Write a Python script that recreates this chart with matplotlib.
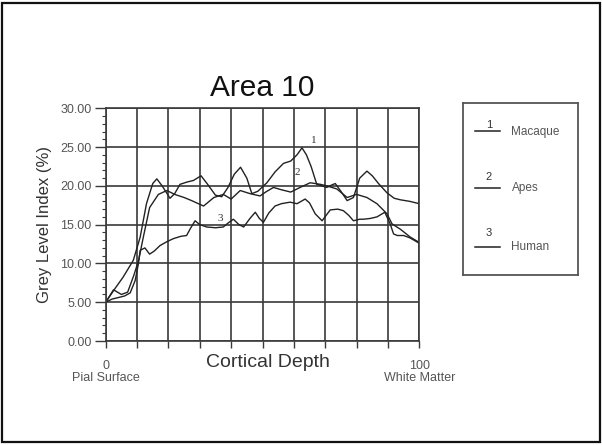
import matplotlib.pyplot as plt
from matplotlib.patches import Rectangle

plt.rcParams['font.family'] = ['Liberation Sans', 'DejaVu Sans']

# ------------------------------------------------------------
# data
# ------------------------------------------------------------
series_names = ["Macaque", "Apes", "Human"]
series_numbers = ["1", "2", "3"]

macaque_x = [0, 2.5, 5.5, 8.8, 11, 13, 15, 16.3, 18, 20.5, 22, 23.7, 26, 28, 30.4,
             32.5, 35, 37, 39, 41, 43, 45, 46.6, 48.5, 51.4, 54, 56.7, 59, 61, 62.6,
             64, 65.5, 67.3, 69, 70.5, 72, 73.2, 75, 77, 79, 81, 83.3, 85, 87, 89.7,
             92, 94, 97, 100]
macaque_y = [5.0, 6.5, 8.2, 10.4, 13.4, 17.7, 20.3, 20.9, 20.0, 18.4, 19.0, 20.2, 20.5,
             20.7, 21.3, 20.2, 18.8, 18.6, 19.8, 21.5, 22.4, 21.0, 19.0, 19.3, 20.4,
             21.8, 22.9, 23.2, 24.0, 24.9, 24.0, 22.5, 20.2, 20.0, 19.8, 20.1, 20.3,
             19.3, 18.1, 18.5, 21.0, 21.9, 21.3, 20.3, 19.1, 18.4, 18.2, 18.0, 17.7]

apes_x = [0, 2.5, 5, 7, 9, 10.5, 12, 14, 16.8, 19.5, 22, 25, 27.4, 31.2, 34.5, 37.5,
          40, 42.9, 46, 49.2, 51, 53.5, 56, 59, 62, 65.2, 68.4, 70.5, 73.7, 77, 80,
          83.3, 86.5, 89.7, 91.3, 94, 97.1, 100]
apes_y = [5.0, 6.6, 6.0, 6.3, 8.5, 10.4, 13.4, 17.2, 18.9, 19.4, 18.9, 18.5, 18.1, 17.4,
          18.5, 18.9, 18.3, 19.4, 19.0, 18.7, 19.2, 19.8, 19.5, 19.2, 19.8, 20.4, 20.2,
          20.0, 19.6, 18.5, 18.9, 18.5, 17.7, 16.4, 15.1, 14.4, 13.4, 12.7]

human_x = [0, 2, 4, 6, 7.8, 9.4, 10.4, 11, 12.5, 14, 15.5, 17.3, 19.5, 21.6, 24, 25.8,
           27, 28.5, 30, 32.2, 35, 37.5, 39, 40.7, 42.5, 44, 46, 47.7, 49, 50.3, 52,
           54, 56, 58.8, 61, 63.6, 65, 66.8, 69, 71.6, 74, 75.8, 77.5, 79, 81, 82.2,
           84.4, 86.5, 89, 90.7, 91.8, 93, 95, 97, 100]
human_y = [5.0, 5.4, 5.6, 5.8, 6.2, 7.8, 9.9, 11.7, 12.0, 11.2, 11.6, 12.3, 12.8, 13.2,
           13.5, 13.6, 14.5, 15.5, 15.0, 14.7, 14.6, 14.7, 15.2, 15.7, 15.0, 14.7, 15.8,
           16.6, 15.8, 15.3, 16.5, 17.4, 17.7, 17.9, 17.7, 18.3, 17.8, 16.4, 15.5, 16.9,
           17.0, 16.8, 16.2, 15.5, 15.7, 15.7, 15.8, 16.0, 16.6, 15.1, 13.8, 13.6, 13.6,
           13.3, 12.6]

# where the curve numbers sit inside the plot
label_pos = [(66.2, 25.8), (61.0, 21.7), (36.5, 15.8)]

y_ticks = [0, 5, 10, 15, 20, 25, 30]
x_ticks = [0, 10, 20, 30, 40, 50, 60, 70, 80, 90, 100]

# ------------------------------------------------------------
# figure
# ------------------------------------------------------------
W, H = 602, 445
fig = plt.figure(figsize=(W / 100, H / 100), dpi=100)

# outer frame around the whole slide
fig.patches.append(Rectangle((0.004, 0.006), 0.992, 0.988, transform=fig.transFigure,
                             fill=False, edgecolor='#111111', linewidth=1.6))

grid_c = '#3a3a3a'
line_c = '#222222'
text_c = '#333333'
tick_c = '#555555'

left, right, top, bottom = 105.7, 419.3, 108.3, 341.0
ax = fig.add_axes([left / W, 1 - bottom / H, (right - left) / W, (bottom - top) / H])

for xs, ys in [(macaque_x, macaque_y), (apes_x, apes_y), (human_x, human_y)]:
    ax.plot(xs, ys, color=line_c, linewidth=1.0)

for num, (lx, ly) in zip(series_numbers, label_pos):
    ax.text(lx, ly, num, fontsize=8, color=text_c, ha='center', va='center',
            family='Liberation Serif')

ax.set_xlim(0, 100)
ax.set_ylim(0, 30)
ax.set_yticks(y_ticks)
ax.set_yticklabels(["%.2f" % v for v in y_ticks])
ax.set_yticks(range(0, 31), minor=True)
ax.set_xticks(x_ticks)
ax.set_xticklabels(["0"] + [""] * 9 + ["100"])
ax.grid(True, which='major', color=grid_c, linewidth=1.2)
ax.tick_params(axis='y', which='major', length=8, width=1, color=grid_c,
               labelsize=9, labelcolor=tick_c, pad=2)
ax.tick_params(axis='y', which='minor', length=3, width=0.8, color=grid_c)
ax.tick_params(axis='x', which='major', length=5, width=1, color=grid_c,
               labelsize=9, labelcolor=tick_c, pad=9)
for sp in ax.spines.values():
    sp.set_color(grid_c)
    sp.set_linewidth(1.2)

ax.set_title("Area 10", fontsize=21.5, color='#111111', pad=9)
ax.set_ylabel("Grey Level Index (%)", fontsize=12, color=text_c, labelpad=6)
ax.text(0.517, -0.093, "Cortical Depth", transform=ax.transAxes, fontsize=14,
        color=text_c, ha='center', va='center')
ax.text(0, -0.159, "Pial Surface", transform=ax.get_xaxis_transform(), fontsize=9,
        color=tick_c, ha='center', va='center')
ax.text(100, -0.159, "White Matter", transform=ax.get_xaxis_transform(), fontsize=9,
        color=tick_c, ha='center', va='center')

# ------------------------------------------------------------
# legend box (numbers sit above short lines)
# ------------------------------------------------------------
lg_l, lg_r, lg_t, lg_b = 463, 578, 103, 275
lax = fig.add_axes([lg_l / W, 1 - lg_b / H, (lg_r - lg_l) / W, (lg_b - lg_t) / H])
lax.set_xlim(lg_l, lg_r)
lax.set_ylim(lg_b, lg_t)
lax.set_xticks([])
lax.set_yticks([])
for sp in lax.spines.values():
    sp.set_color('#555555')
    sp.set_linewidth(1.3)

entry_y = [131.5, 188.3, 247.0]
num_gap = [7, 11, 14]
for name, num, ey, g in zip(series_names, series_numbers, entry_y, num_gap):
    lax.plot([475, 500], [ey, ey], color=line_c, linewidth=1.1)
    lax.text(489, ey - g, num, fontsize=8, color=text_c, ha='center', va='center')
    lax.text(511.5, ey, name, fontsize=8.5, color=tick_c, ha='left', va='center')

fig.savefig("out.png", dpi=100)
